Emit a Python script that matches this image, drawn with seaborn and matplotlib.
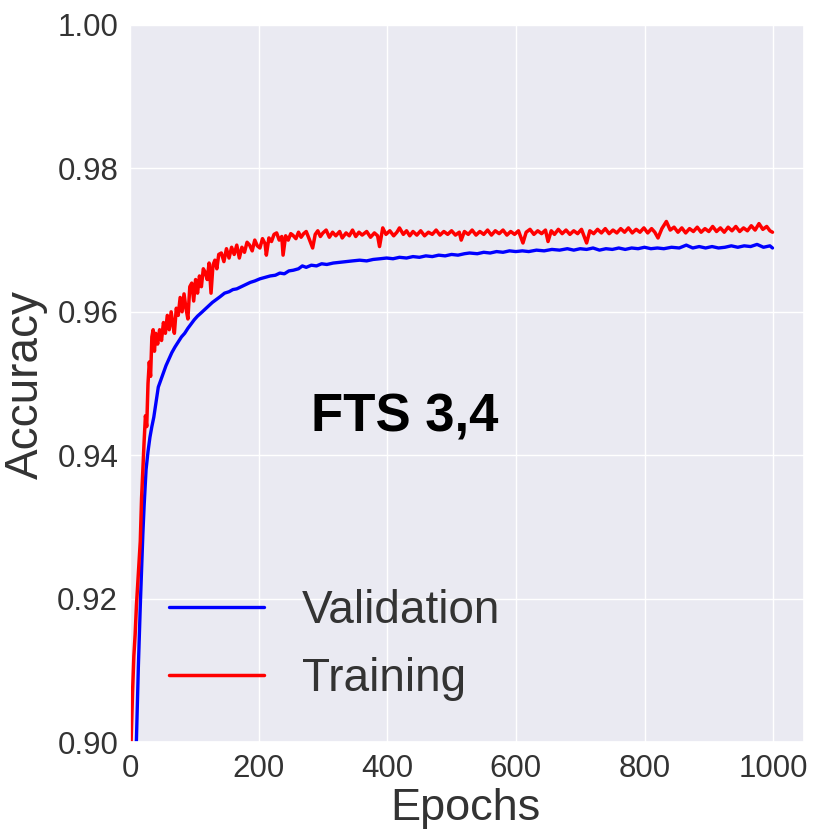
import matplotlib
matplotlib.use("Agg")
import matplotlib.pyplot as plt
import seaborn as sns
import pandas as pd

train_epochs = [0, 2, 4, 6, 8, 10, 12, 14, 16, 18, 20, 22, 24, 26, 28, 30, 32, 34, 36, 38, 40, 43, 46, 49, 52, 55, 58, 61, 64, 67, 69, 72, 75, 78, 81, 84, 87, 90, 93, 96, 99, 102, 105, 108, 111, 114, 117, 120, 123, 126, 129, 132, 135, 138, 142, 146, 150, 154, 158, 162, 166, 170, 174, 178, 182, 186, 190, 194, 198, 202, 206, 210, 212, 216, 220, 224, 228, 232, 236, 238, 242, 246, 250, 253, 258, 262, 266, 270, 274, 278, 284, 288, 292, 296, 300, 305, 310, 315, 320, 326, 330, 336, 341, 346, 351, 356, 361, 368, 374, 380, 385, 388, 393, 398, 404, 410, 415, 419, 425, 430, 435, 440, 446, 452, 458, 464, 470, 476, 482, 488, 494, 500, 506, 512, 515, 520, 526, 532, 538, 544, 550, 556, 562, 568, 574, 580, 586, 592, 598, 604, 611, 616, 622, 628, 634, 640, 646, 650, 655, 660, 666, 672, 678, 684, 690, 696, 702, 710, 715, 721, 727, 733, 739, 745, 751, 757, 763, 769, 775, 781, 787, 793, 799, 805, 811, 816, 821, 827, 834, 840, 846, 852, 858, 864, 870, 876, 882, 888, 894, 900, 906, 912, 918, 924, 930, 936, 942, 948, 954, 960, 966, 972, 978, 984, 990, 995, 999]
train_acc = [0.895, 0.901, 0.907, 0.912, 0.915, 0.919, 0.922, 0.925, 0.928, 0.934, 0.938, 0.942, 0.9455, 0.944, 0.950, 0.953, 0.951, 0.9565, 0.9575, 0.9545, 0.957, 0.9555, 0.9575, 0.956, 0.9585, 0.9570, 0.9595, 0.9575, 0.9600, 0.9580, 0.957, 0.9605, 0.9595, 0.9620, 0.9600, 0.9625, 0.9605, 0.9590, 0.9635, 0.9640, 0.9615, 0.9645, 0.9626, 0.9650, 0.9635, 0.9660, 0.9655, 0.9645, 0.9668, 0.9626, 0.9665, 0.9672, 0.9660, 0.9680, 0.9682, 0.9670, 0.9688, 0.9675, 0.9690, 0.9680, 0.9693, 0.9675, 0.9690, 0.9683, 0.9697, 0.9693, 0.9685, 0.9700, 0.9692, 0.9689, 0.9702, 0.9695, 0.9679, 0.9703, 0.9698, 0.9708, 0.9710, 0.9700, 0.9705, 0.9679, 0.9706, 0.9700, 0.9709, 0.9707, 0.9702, 0.9711, 0.9704, 0.9709, 0.9712, 0.9703, 0.9689, 0.9708, 0.9713, 0.9705, 0.9710, 0.9714, 0.9704, 0.9711, 0.9706, 0.9712, 0.9703, 0.9710, 0.9706, 0.9714, 0.9705, 0.9711, 0.9707, 0.9712, 0.9704, 0.9710, 0.9706, 0.9691, 0.9717, 0.9708, 0.9713, 0.9706, 0.9711, 0.9717, 0.9708, 0.9713, 0.9706, 0.9712, 0.9707, 0.9713, 0.9706, 0.9711, 0.9708, 0.9714, 0.9707, 0.9712, 0.9708, 0.9713, 0.9707, 0.9711, 0.9700, 0.9712, 0.9708, 0.9714, 0.9707, 0.9712, 0.9708, 0.9714, 0.9707, 0.9713, 0.9709, 0.9714, 0.9707, 0.9712, 0.9708, 0.9713, 0.9696, 0.9711, 0.9715, 0.9708, 0.9713, 0.9709, 0.9714, 0.9698, 0.9713, 0.9708, 0.9715, 0.9709, 0.9714, 0.9708, 0.9713, 0.9709, 0.9715, 0.9696, 0.9713, 0.9709, 0.9715, 0.9710, 0.9716, 0.9709, 0.9714, 0.9710, 0.9716, 0.9711, 0.9717, 0.9710, 0.9715, 0.9711, 0.9717, 0.9710, 0.9716, 0.9711, 0.9703, 0.9716, 0.9726, 0.9714, 0.9718, 0.9711, 0.9717, 0.9710, 0.9716, 0.9712, 0.9718, 0.9711, 0.9716, 0.9712, 0.9719, 0.9712, 0.9717, 0.9711, 0.9718, 0.9713, 0.9719, 0.9712, 0.9717, 0.9713, 0.9720, 0.9714, 0.9723, 0.9715, 0.9719, 0.9713, 0.9711]

val_epochs = [0, 6, 10, 13, 16, 18, 20, 22, 25, 28, 31, 34, 37, 41, 44, 48, 52, 56, 60, 65, 70, 75, 80, 85, 90, 95, 100, 105, 110, 116, 122, 128, 134, 140, 147, 154, 160, 166, 173, 180, 187, 194, 202, 210, 218, 226, 233, 240, 247, 254, 262, 268, 274, 282, 290, 298, 306, 316, 326, 336, 346, 357, 368, 378, 389, 399, 409, 419, 430, 440, 450, 460, 470, 480, 490, 500, 510, 520, 528, 540, 550, 560, 570, 580, 590, 600, 610, 620, 632, 644, 656, 668, 680, 690, 700, 710, 720, 730, 740, 750, 760, 770, 780, 790, 800, 810, 820, 830, 842, 854, 865, 875, 885, 895, 905, 915, 925, 935, 945, 955, 965, 975, 985, 995, 999]
val_acc = [0.885, 0.894, 0.9003, 0.9105, 0.919, 0.924, 0.929, 0.933, 0.938, 0.9405, 0.9425, 0.944, 0.9453, 0.9477, 0.9495, 0.9505, 0.9515, 0.9525, 0.9533, 0.9543, 0.9551, 0.9558, 0.9565, 0.9570, 0.9577, 0.9583, 0.9589, 0.9594, 0.9598, 0.9603, 0.9608, 0.9613, 0.9617, 0.9621, 0.9626, 0.9628, 0.9631, 0.9632, 0.9635, 0.9638, 0.9641, 0.9643, 0.9646, 0.9648, 0.9650, 0.9651, 0.9654, 0.9653, 0.9657, 0.9658, 0.9660, 0.9664, 0.9662, 0.9665, 0.9664, 0.9667, 0.9666, 0.9668, 0.9669, 0.9670, 0.9671, 0.9672, 0.9671, 0.9673, 0.9674, 0.9675, 0.9674, 0.9676, 0.9675, 0.9677, 0.9676, 0.9678, 0.9677, 0.9679, 0.9678, 0.9680, 0.9679, 0.9681, 0.9682, 0.9681, 0.9683, 0.9682, 0.9684, 0.9683, 0.9685, 0.9684, 0.9685, 0.9684, 0.9686, 0.9685, 0.9687, 0.9686, 0.9688, 0.9686, 0.9688, 0.9687, 0.9689, 0.9686, 0.9688, 0.9687, 0.9689, 0.9687, 0.9689, 0.9688, 0.9690, 0.9688, 0.9689, 0.9688, 0.9690, 0.9689, 0.9693, 0.9689, 0.9691, 0.9689, 0.9691, 0.9689, 0.9690, 0.9692, 0.9690, 0.9692, 0.9691, 0.9694, 0.9690, 0.9692, 0.9689]

x_ticks = [0, 200, 400, 600, 800, 1000]
y_ticks = [0.90, 0.92, 0.94, 0.96, 0.98, 1.00]
y_tick_labels = ["0.90", "0.92", "0.94", "0.96", "0.98", "1.00"]

sns.set_theme(style="darkgrid")
plt.rcParams['font.family'] = ['Liberation Sans', 'DejaVu Sans']

fig = plt.figure(figsize=(8.16, 8.36), dpi=100)
ax = fig.add_axes([130/816, 1-742/836, 674/816, 717/836])

df_val = pd.DataFrame({"epoch": val_epochs, "acc": val_acc})
df_tr = pd.DataFrame({"epoch": train_epochs, "acc": train_acc})
sns.lineplot(data=df_val, x="epoch", y="acc", ax=ax, color="#0000ff", lw=2.4, label="Validation")
sns.lineplot(data=df_tr, x="epoch", y="acc", ax=ax, color="#ff0000", lw=2.5, label="Training")

ax.set_xlim(0, 1048)
ax.set_ylim(0.90, 1.00)
ax.set_xticks(x_ticks)
ax.set_yticks(y_ticks)
ax.set_yticklabels(y_tick_labels)
ax.tick_params(axis='both', labelsize=22.5, colors='#333333', length=0, pad=8.5)
ax.set_xlabel("Epochs", fontsize=32.5, color='#333333')
ax.set_ylabel("Accuracy", fontsize=33, color='#333333')
ax.xaxis.set_label_coords(0.498, -0.0635)
ax.yaxis.set_label_coords(-0.122, 0.499)

ax.text(427, 0.9452, "FTS 3,4", fontsize=38, fontweight='bold', color='black', ha='center', va='center')

leg = ax.legend(loc='center left', bbox_to_anchor=(-0.003, 0.1353), frameon=False, fontsize=33,
                handlelength=2.07, handletextpad=0.83, labelspacing=0.535)
for t in leg.get_texts():
    t.set_color('#333333')

fig.savefig("out.png", dpi=100)
